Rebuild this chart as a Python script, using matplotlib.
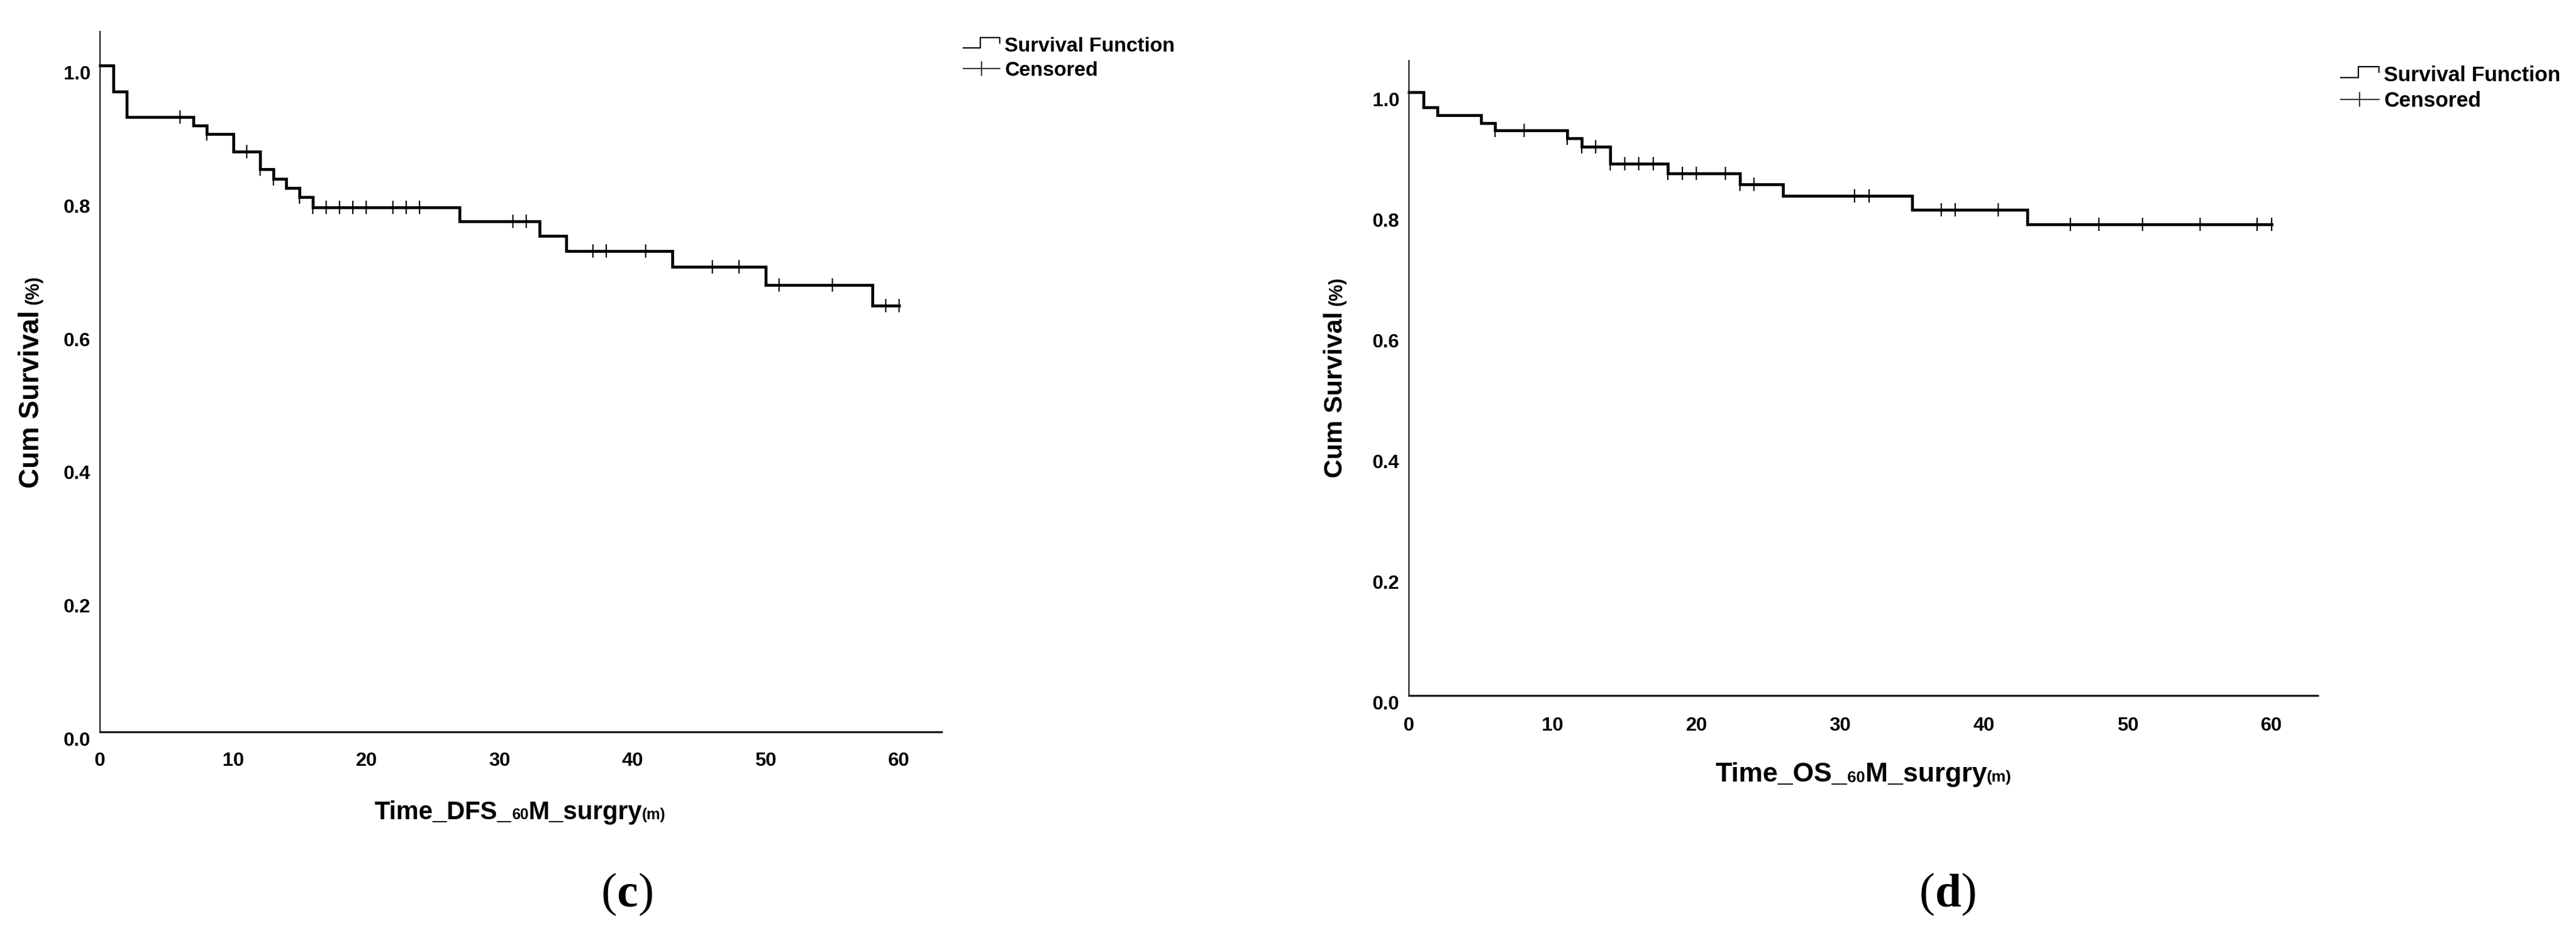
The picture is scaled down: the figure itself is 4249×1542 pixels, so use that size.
"""
Kaplan-Meier curves, panels (c) DFS and (d) OS, SPSS style.
"""
import matplotlib
matplotlib.use("Agg")
import matplotlib.pyplot as plt
import numpy as np
from matplotlib.lines import Line2D
from matplotlib.legend_handler import HandlerBase
from matplotlib.offsetbox import TextArea, HPacker, AnnotationBbox

W, H, DPI = 4249, 1542, 100

# ── data ─────────────────────────────────────────────────────────────────
dfs_time = [0, 1, 2, 7, 8, 10, 12, 13, 14, 15, 16, 27, 33, 35, 43, 50, 58]
dfs_surv = [1.0, 0.961, 0.923, 0.910, 0.897, 0.871, 0.844, 0.830, 0.816,
            0.803, 0.787, 0.766, 0.744, 0.722, 0.698, 0.671, 0.640]
dfs_cens = [6, 8, 11, 12, 13, 15, 16, 17, 18, 19, 20, 22, 23, 24,
            31, 32, 37, 38, 41, 46, 48, 51, 55, 59, 60]

os_time = [0, 1, 2, 5, 6, 11, 12, 14, 18, 23, 26, 35, 43]
os_surv = [1.0, 0.975, 0.962, 0.949, 0.936, 0.923, 0.909, 0.881, 0.865,
           0.847, 0.828, 0.805, 0.781]
os_cens = [6, 8, 11, 12, 13, 14, 15, 16, 17, 18, 19, 20, 22, 23, 24,
           31, 32, 37, 38, 41, 46, 48, 51, 55, 59, 60]

END_TIME = 60
x_ticks = [0, 10, 20, 30, 40, 50, 60]
y_ticks = [0.0, 0.2, 0.4, 0.6, 0.8, 1.0]

SANS = "Liberation Sans"
SERIF = "Liberation Serif"
plt.rcParams["font.family"] = [SANS, "DejaVu Sans"]


class StepHandler(HandlerBase):
    # the little "_|‾|" glyph SPSS uses for the survival function
    def create_artists(self, legend, orig_handle, xdescent, ydescent,
                       width, height, fontsize, trans):
        xs = np.array([0.0, 0.47, 0.47, 1.0, 1.0]) * width - xdescent
        ys = np.array([0.25, 0.25, 1.0, 1.0, 0.6]) * height - ydescent
        return [Line2D(xs, ys, color="black", lw=1.6, transform=trans)]


def px_rect(x0, y0, x1, y1):
    # pixel box (top-left origin) -> figure fraction rect
    return [x0 / W, (H - y1) / H, (x1 - x0) / W, (y1 - y0) / H]


def km_panel(fig, rect, t, s, cens, top, tick_fs, xpad, ypad):
    ax = fig.add_axes(rect)
    ax.step(list(t) + [END_TIME], list(s) + [s[-1]], where="post",
            color="black", lw=3.4, solid_joinstyle="miter", clip_on=False)
    idx = np.searchsorted(t, cens, side="right") - 1
    ax.plot(cens, np.asarray(s)[idx], ls="none", marker="|", ms=16,
            mew=1.6, color="black", clip_on=False)
    ax.set_xlim(0, 63.2)
    ax.set_ylim(0, top)
    ax.set_xticks(x_ticks)
    ax.set_yticks(y_ticks)
    ax.set_yticklabels([f"{v:.1f}" for v in y_ticks])
    ax.tick_params(axis="x", length=0, pad=xpad, labelsize=tick_fs)
    ax.tick_params(axis="y", length=0, pad=ypad, labelsize=tick_fs)
    for lab in ax.get_xticklabels() + ax.get_yticklabels():
        lab.set_fontweight("bold")
    for lab in ax.get_yticklabels():
        lab.set_va("top")
    for side in ("top", "right"):
        ax.spines[side].set_visible(False)
    ax.spines["left"].set_linewidth(1.6)
    ax.spines["bottom"].set_linewidth(2.4)
    ax.spines["left"].set_color("#1a1a1a")
    ax.spines["bottom"].set_color("#1a1a1a")
    return ax


def ylabel(fig, ax, cx, cy, big, small):
    t1 = fig.text(0, 0, "Cum Survival", rotation=90, ha="right", va="bottom",
                  fontsize=big, fontweight="bold")
    off = 0.21 * (big - small)
    t2 = ax.annotate("(%)", xy=(1, 1), xycoords=t1, xytext=(-off, 7),
                     textcoords="offset points", rotation=90, ha="right",
                     va="bottom", fontsize=small, fontweight="bold",
                     annotation_clip=False)
    fig.canvas.draw()
    r = fig.canvas.get_renderer()
    b1 = t1.get_window_extent(r)
    b2 = t2.get_window_extent(r)
    h = b2.y1 - b1.y0
    t1.set_position(((cx + b1.width / 2) / W, (H - cy - h / 2) / H))


def xlabel(fig, head, cx, cy, big, small):
    big_p = dict(fontsize=big, fontweight="bold", family=SANS)
    small_p = dict(fontsize=small, fontweight="bold", family=SANS)
    parts = [TextArea(head, textprops=big_p), TextArea("60", textprops=small_p),
             TextArea("M_surgry", textprops=big_p), TextArea("(m)", textprops=small_p)]
    box = HPacker(children=parts, align="baseline", pad=0, sep=0)
    fig.add_artist(AnnotationBbox(box, (cx / W, 1 - cy / H), xycoords="figure fraction",
                                  frameon=False, box_alignment=(0.5, 0.5), pad=0))


def panel_tag(fig, letter, cx, cy, fs=56):
    reg = dict(fontsize=fs, family=SERIF)
    bold = dict(fontsize=fs, family=SERIF, fontweight="bold")
    parts = [TextArea("(", textprops=reg), TextArea(letter, textprops=bold),
             TextArea(")", textprops=reg)]
    box = HPacker(children=parts, align="baseline", pad=0, sep=0)
    fig.add_artist(AnnotationBbox(box, (cx / W, 1 - cy / H), xycoords="figure fraction",
                                  frameon=False, box_alignment=(0.5, 0.5), pad=0))


def legend(fig, x, y_top, fs):
    step_h = Line2D([], [], color="black")
    cens_h = Line2D([], [], color="#3a3a3a", lw=1.6, marker="|", ms=17, mew=1.6)
    fig.legend([step_h, cens_h], ["Survival Function", "Censored"],
               handler_map={step_h: StepHandler()},
               loc="upper left", bbox_to_anchor=(x / W, 1 - y_top / H),
               bbox_transform=fig.transFigure, frameon=False, numpoints=1,
               prop=dict(size=fs, weight="bold", family=SANS),
               handlelength=1.8, handletextpad=0.25, labelspacing=0.27,
               borderpad=0, borderaxespad=0)


fig = plt.figure(figsize=(W / DPI, H / DPI), dpi=DPI, facecolor="white")

# ── (c) disease-free survival ─────────────────────────────────────────────
ax_c = km_panel(fig, px_rect(165, 52, 1553, 1207), dfs_time, dfs_surv, dfs_cens,
                top=1.051, tick_fs=23, xpad=24, ypad=11)
ylabel(fig, ax_c, 52, 630, 33, 22)
xlabel(fig, "Time_DFS_", 858, 1340, 30, 18)
legend(fig, 1589, 61, 24)
panel_tag(fig, "c", 1035, 1476)

# ── (d) overall survival ─────────────────────────────────────────────────
ax_d = km_panel(fig, px_rect(2324, 100, 3823, 1147), os_time, os_surv, os_cens,
                top=1.052, tick_fs=23, xpad=25, ypad=11)
ylabel(fig, ax_d, 2203, 622, 31, 22)
xlabel(fig, "Time_OS_", 3074, 1278, 32, 19)
legend(fig, 3861, 108, 25)
panel_tag(fig, "d", 3213, 1476)

fig.savefig("out.png", dpi=DPI, facecolor="white")
plt.close(fig)
